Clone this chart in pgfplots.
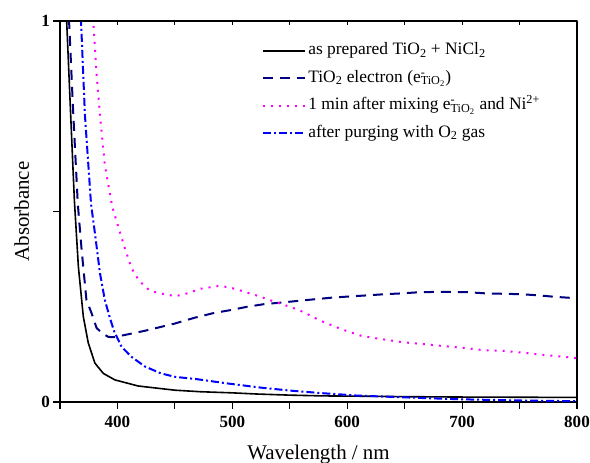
\documentclass[border=0pt]{standalone}
\usepackage{pgfplots}
\pgfplotsset{compat=1.18}
\usepackage{fontspec}
\setmainfont{Liberation Serif}
\definecolor{navyc}{RGB}{0,0,128}
\definecolor{magc}{RGB}{255,0,255}
\definecolor{bluec}{RGB}{0,0,255}
\newcommand{\eTi}{e\rlap{\textsuperscript{-}}\textsubscript{TiO\textsubscript{2}}}
\begin{document}
\begin{tikzpicture}
\begin{axis}[
  scale only axis, width=517bp, height=381bp,
  xmin=350, xmax=800, ymin=0, ymax=1,
  axis line style={line width=1.1bp},
  xtick={400,500,600,700,800}, minor xtick={350,450,550,650,750},
  ytick={0,0.5,1}, yticklabels={0,,1},
  xtick pos=left, ytick pos=left,
  tick align=outside, major tick length=6.5bp, minor tick length=6.5bp,
  tick style={line width=1.1bp, color=black},
  /pgf/number format/assume math mode=true,
  ticklabel style={font=\bfseries\fontsize{17.1}{20}\selectfont},
  xticklabel style={yshift=-4bp},
  xlabel={Wavelength / nm}, ylabel={Absorbance},
  every axis x label/.style={at={(axis description cs:0.5,0)}, anchor=base, yshift=-57bp, font=\fontsize{21}{24}\selectfont},
  every axis y label/.style={at={(axis description cs:0,0.5)}, xshift=-31bp, rotate=90, anchor=base, font=\fontsize{21}{24}\selectfont},
  legend cell align=left,
  legend style={at={(axis description cs:0.390,0.943)}, anchor=north west, draw=none, fill=none,
    inner sep=0pt, font=\fontsize{17.5}{20}\selectfont, row sep=11.4bp,
    nodes={inner sep=0pt, text height=12bp, text depth=4bp},
    /tikz/every odd column/.append style={column sep=2.5bp}},
  legend image code/.code={\draw[#1] (0bp,0bp) -- (42bp,0bp);},
  line join=round,
]
\addplot[black, line width=1.6bp, mark=none] coordinates {
(355.2,1.05)(355.8,1.0)(359.3,0.753)(362.5,0.53)(366,0.355)(370.3,0.224)(374.6,0.155)(380.4,0.102)(387.7,0.075)(397.8,0.058)(418,0.042)(450,0.031)(472,0.027)(500,0.024)(521,0.021)(550,0.018)(579,0.016)(620,0.015)(650,0.014)(700,0.013)(750,0.0125)(800,0.012)};
\addlegendentry{as prepared TiO\textsubscript{2} + NiCl\textsubscript{2}}
\addplot[navyc, line width=2bp, dash pattern=on 10bp off 7bp, mark=none] coordinates {
(357.8,1.05)(357.9,1.0)(361.6,0.753)(365.5,0.52)(368.8,0.4)(373,0.268)(377.5,0.233)(381.9,0.194)(387,0.18)(392,0.171)(396.4,0.17)(406.5,0.176)(424,0.187)(450,0.206)(467,0.221)(483,0.233)(498,0.241)(513,0.25)(528,0.257)(543,0.261)(559,0.266)(573,0.27)(587,0.274)(602,0.277)(618,0.28)(633,0.283)(647,0.285)(662,0.288)(677,0.289)(692,0.289)(706,0.288)(721,0.285)(736,0.284)(751,0.283)(766,0.28)(781,0.276)(796,0.273)(800,0.272)};
\addlegendentry{TiO\textsubscript{2} electron (\eTi)}
\addplot[magc, line width=2bp, dash pattern=on 2bp off 6bp, mark=none] coordinates {
(378.8,1.05)(379,1.0)(381.9,0.858)(384.8,0.753)(389,0.622)(395.5,0.512)(400.7,0.46)(406.5,0.403)(412.3,0.351)(418,0.322)(425.4,0.298)(434,0.287)(444,0.281)(451,0.278)(463,0.287)(471.7,0.297)(487,0.304)(496,0.302)(505.7,0.294)(514,0.286)(523,0.278)(532,0.268)(540,0.26)(550,0.25)(559,0.24)(567,0.228)(577,0.213)(586,0.202)(595,0.191)(604,0.182)(612,0.174)(621,0.169)(630,0.165)(648,0.157)(666,0.152)(683,0.147)(701,0.142)(719,0.136)(737,0.134)(754,0.129)(773,0.123)(791,0.118)(800,0.115)};
\addlegendentry{1 min after mixing \eTi{} and Ni\textsuperscript{2+}}
\addplot[bluec, line width=2bp, dash pattern=on 8bp off 3bp on 2bp off 3bp, mark=none] coordinates {
(368.1,1.05)(368.3,1.0)(371.7,0.753)(377,0.52)(380.4,0.443)(384.8,0.338)(389,0.268)(393.5,0.22)(397.2,0.185)(403.6,0.145)(412,0.119)(424,0.093)(438,0.075)(450,0.066)(469,0.06)(495,0.049)(524,0.038)(550,0.03)(579,0.023)(608,0.017)(634,0.014)(670,0.01)(700,0.007)(750,0.004)(800,0.002)};
\addlegendentry{after purging with O\textsubscript{2} gas}
\end{axis}
\begin{axis}[
  scale only axis, width=517bp, height=381bp,
  xmin=350, xmax=800, ymin=0, ymax=1,
  axis x line*=top, axis y line=none,
  axis line style={line width=1.1bp, -},
  xtick={400,500,600,700,800}, minor xtick={350,450,550,650,750},
  xticklabels={}, tick align=inside,
  major tick length=4bp, minor tick length=4bp,
  tick style={line width=1.1bp, color=black},
]
\end{axis}
\pgfresetboundingbox
\path[use as bounding box] (-60bp,-61bp) rectangle (530bp,402bp);
\end{tikzpicture}
\end{document}
